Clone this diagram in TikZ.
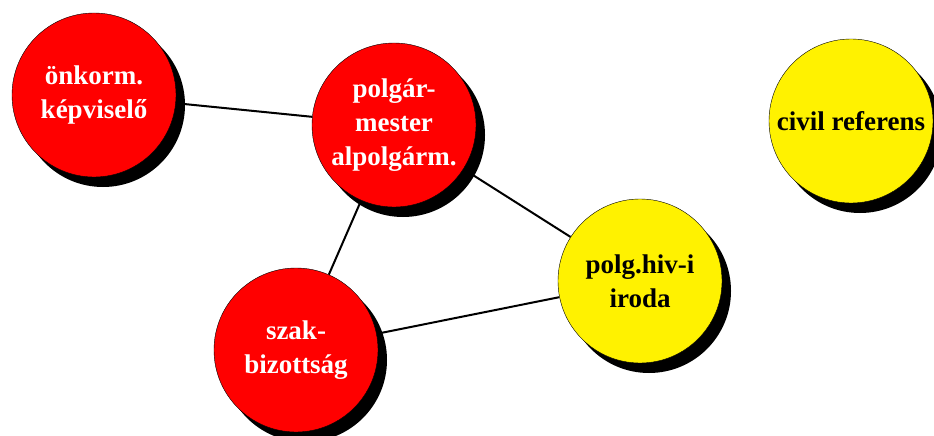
\documentclass[tikz,border=0pt]{standalone}
\usepackage{fontspec}
\setmainfont{Liberation Serif}
\usepackage{tikz}
\usetikzlibrary{positioning}
\usetikzlibrary{shadows}
\usetikzlibrary{backgrounds}

\begin{document}
\begin{tikzpicture}[x=1pt, y=-1pt, node distance = 100pt and 100pt, on grid, unit/.style ={circle, draw, thin, minimum size=164pt, inner sep=0pt, align=center, font=\fontsize{27}{34}\selectfont\bfseries, drop shadow={shadow xshift=9pt, shadow yshift=-10pt, fill=black, opacity=1}}, tanacs/.style={unit, fill=red, text=white}, hivatal/.style={unit, fill=yellow, text=black}]
\useasboundingbox (0,0) rectangle (934,436);
\node[tanacs] (A) at (94,95) {önkorm.\\képviselő};
\node[tanacs] (B) [below right = 30pt and 300pt of A] {polgár-\\mester\\alpolgárm.};
\node[tanacs] (C) [below left = 225pt and 98pt of B] {szak-\\bizottság};
\node[hivatal] (D) [below right = 156pt and 246pt of B] {polg.hiv-i\\iroda};
\node[hivatal] (E) [above right = 160pt and 211pt of D] {civil referens};
\begin{scope}[on background layer]
\path[line width=2pt] (A) edge node {} (B)
(B) edge node {} (C)
(B) edge node {} (D)
(C) edge node {} (D);
\end{scope}
\end{tikzpicture}
\end{document}
